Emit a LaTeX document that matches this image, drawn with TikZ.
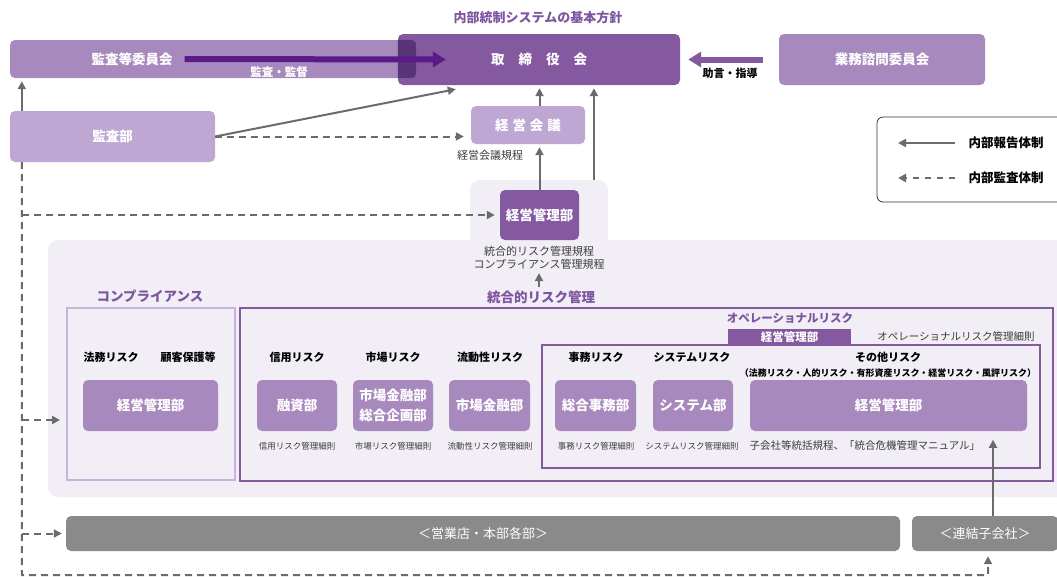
\documentclass[tikz,border=0pt]{standalone}
\usepackage{fontspec}
\setmainfont{Noto Sans CJK JP}
\usetikzlibrary{arrows.meta,calc,positioning}
\definecolor{darkp}{HTML}{84599F}
\definecolor{midp}{HTML}{A889BD}
\definecolor{lightp}{HTML}{BEA8D3}
\definecolor{compline}{HTML}{C6B2DA}
\definecolor{panel}{HTML}{F1EEF5}
\definecolor{auditp}{HTML}{5A1A8A}
\definecolor{overlapc}{HTML}{5A3479}
\definecolor{titlep}{HTML}{7E55A0}
\definecolor{linegray}{HTML}{6B6B6B}
\definecolor{boxgray}{HTML}{8A8A8A}
\definecolor{rulegray}{HTML}{3C3C3C}
\tikzset{
  box/.style={rounded corners=5pt, inner sep=0pt, text=white, font=\fontsize{13.5}{16}\selectfont\bfseries},
  ttl/.style={text=titlep, font=\fontsize{13.5}{16}\selectfont\bfseries},
  risk/.style={font=\fontsize{11}{13}\selectfont\bfseries},
  rule/.style={text=rulegray, font=\fontsize{8.5}{10}\selectfont},
  rep/.style={draw=linegray, line width=2pt, -{Triangle[length=8pt,width=8pt]}},
  aud/.style={rep, dash pattern=on 7pt off 5pt},
  advise/.style={line width=6pt, -{Triangle[length=13pt,width=15pt]}}
}

\begin{document}
\begin{tikzpicture}[x=1pt,y=-1pt]
  \useasboundingbox (0,0) rectangle (1057,576);
  \clip (0,0) rectangle (1057,576);

  \fill[panel, rounded corners=10pt] (48,240) rectangle (1080,497);
  \node[fill=panel, rounded corners=10pt, minimum width=138pt, minimum height=80pt] (bump) at (539,220) {};

  % board and committees
  \node[ttl, font=\fontsize{13}{15}\selectfont\bfseries] (policy) at (538,18) {内部統制システムの基本方針};
  \node[box, fill=midp, minimum width=406pt, minimum height=38pt] (kansaiin) at (213,59) {};
  \node[box, fill=darkp, minimum width=282pt, minimum height=51pt] (torishimari) at (539,59.5) {取\hspace{14pt}締\hspace{14pt}役\hspace{14pt}会};
  \begin{scope}
    \clip[rounded corners=5pt] (kansaiin.north west) rectangle (kansaiin.south east);
    \fill[overlapc, rounded corners=5pt] (torishimari.north west) rectangle (torishimari.south east);
  \end{scope}
  \node[box] (kansaiinlbl) at (132,59) {監査等委員会};
  \draw[advise, draw=auditp, fill=auditp] ([xshift=12pt]kansaiinlbl.east) -- ([xshift=48pt]torishimari.west);
  \node[text=white, font=\fontsize{11.5}{13}\selectfont\bfseries] (kansalbl) at (279,72) {監査・監督};
  \node[box, fill=midp, minimum width=206pt, minimum height=51pt] (gyomu) at (882,59.5) {業務諮問委員会};
  \draw[advise, draw=darkp, fill=darkp] ([xshift=-16pt]gyomu.west) -- ([xshift=8pt]torishimari.east);
  \node[risk] (advlbl) at (730,73) {助言・指導};

  \node[box, fill=lightp, minimum width=205pt, minimum height=51pt] (kansabu) at (112.5,136.5) {監査部};
  \node[box, fill=lightp, minimum width=114pt, minimum height=38pt] (keieikaigi) at (528,125) {経\hspace{4pt}営\hspace{4pt}会\hspace{4pt}議};
  \node[rule, font=\fontsize{11}{13}\selectfont] (kaigirule) at (490,155) {経営会議規程};
  \node[box, fill=darkp, minimum width=79pt, minimum height=50pt] (keieikanri) at (539.5,215) {経営管理部};
  \node[rule, font=\fontsize{11}{13}\selectfont, align=center] (toprule) at (539,258) {統合的リスク管理規程\\コンプライアンス管理規程};
  \node[ttl] (risktitle) at (541,297) {統合的リスク管理};

  \draw[rep] (toprule.south |- risktitle.north) -- (toprule.south);
  \draw[rep, shorten >=3pt] (keieikanri.north) -- (keieikanri.north |- keieikaigi.south);
  \draw[rep, shorten >=3pt] (keieikanri.north |- keieikaigi.north) -- (keieikanri.north |- torishimari.south);
  \draw[rep, shorten >=3pt] ([xshift=55pt]bump.north) -- ([xshift=55pt]bump.north |- torishimari.south);
  \draw[rep] (kansabu.east) -- ($(torishimari.south west)+(58,4)$);
  \draw[aud, shorten >=7pt] (kansabu.east) -- (kansabu.east -| keieikaigi.west);
  \draw[rep, shorten >=3pt] ([xshift=12pt]kansabu.north west) -- ([xshift=12pt]kansabu.north west |- kansaiin.south);

  % legend
  \node[draw=black!80, line width=0.8pt, rounded corners=6pt, minimum width=190pt, minimum height=85pt] (legend) at (972,159.5) {};
  \node[anchor=west, font=\fontsize{12.5}{14}\selectfont\bfseries] (legrep) at (965,143) {内部報告体制};
  \node[anchor=west, font=\fontsize{12.5}{14}\selectfont\bfseries] (legaud) at (965,178) {内部監査体制};
  \draw[rep] ([xshift=-10pt]legrep.west) -- ([xshift=-67pt]legrep.west);
  \draw[aud, dash pattern=on 6pt off 6pt] ([xshift=-10pt]legaud.west) -- ([xshift=-67pt]legaud.west);

  % compliance
  \node[ttl] (complttl) at (150,296) {コンプライアンス};
  \node[draw=compline, line width=2pt, minimum width=168pt, minimum height=172pt] (compbox) at (151,394) {};
  \node[risk] (homu) at (111,357) {法務リスク};
  \node[risk] (kokyaku) at (188,357) {顧客保護等};
  \node[box, fill=midp, minimum width=135pt, minimum height=51pt] (compkanri) at (150.5,405.5) {経営管理部};

  % integrated risk
  \node[draw=darkp, line width=2.5pt, minimum width=813pt, minimum height=173pt] (riskbox) at (646.5,394.5) {};
  \node[risk] (shinyo) at (297,357) {信用リスク};
  \node[box, fill=midp, minimum width=80pt, minimum height=51pt] (yushi) at (297,405.5) {融資部};
  \node[rule] (shinyorule) at (297,446) {信用リスク管理細則};
  \node[risk] (shijo) at (393,357) {市場リスク};
  \node[box, fill=midp, minimum width=80pt, minimum height=51pt, align=center, font=\fontsize{13.5}{19.5}\selectfont\bfseries] (shijobu) at (393,405.5) {市場金融部\\総合企画部};
  \node[rule] (shijorule) at (393,446) {市場リスク管理細則};
  \node[risk] (ryudo) at (490,357) {流動性リスク};
  \node[box, fill=midp, minimum width=81pt, minimum height=51pt] (ryudobu) at (489.5,405.5) {市場金融部};
  \node[rule] (ryudorule) at (490,446) {流動性リスク管理細則};

  % operational risk
  \node[draw=darkp, line width=2.5pt, minimum width=498pt, minimum height=123pt] (opbox) at (791,406.5) {};
  \node[ttl, font=\fontsize{11.5}{13}\selectfont\bfseries] (opttl) at (790,318) {オペレーショナルリスク};
  \node[fill=darkp, text=white, inner sep=0pt, font=\fontsize{11.5}{13}\selectfont\bfseries, minimum width=123pt, minimum height=17pt] (optab) at (789.5,337.5) {経営管理部};
  \node[rule, font=\fontsize{10.5}{12}\selectfont] (oprule) at (956,336) {オペレーショナルリスク管理細則};
  \node[risk] (jimu) at (596,357) {事務リスク};
  \node[box, fill=midp, minimum width=81pt, minimum height=51pt] (jimubu) at (595.5,405.5) {総合事務部};
  \node[rule] (jimurule) at (596,446) {事務リスク管理細則};
  \node[risk] (sys) at (692,357) {システムリスク};
  \node[box, fill=midp, minimum width=80pt, minimum height=51pt] (sysbu) at (693,405.5) {システム部};
  \node[rule] (sysrule) at (692,446) {システムリスク管理細則};
  \node[risk] (sonota) at (888,357) {その他リスク};
  \node[risk, font=\fontsize{9}{11}\selectfont\bfseries] (sonotasub) at (888,373) {（法務リスク・人的リスク・有形資産リスク・経営リスク・風評リスク）};
  \node[box, fill=midp, minimum width=277pt, minimum height=51pt] (sonotabu) at (888.5,405.5) {経営管理部};
  \node[rule, font=\fontsize{10.5}{12}\selectfont, anchor=west] (sonotarule) at (746,446) {子会社等統括規程、「統合危機管理マニュアル」};

  % branches and subsidiaries
  \node[box, fill=boxgray, font=\fontsize{13}{15}\selectfont, minimum width=834pt, minimum height=35pt] (eigyo) at (483,533.5) {＜営業店・本部各部＞};
  \node[box, fill=boxgray, font=\fontsize{13}{15}\selectfont, minimum width=146pt, minimum height=35pt] (renketsu) at (985,533.5) {＜連結子会社＞};
  \draw[rep] ([xshift=8pt]renketsu.north) -- ++(0,-76);

  % audit lines
  \coordinate (trunk) at (22,575);
  \coordinate (rk) at ($(renketsu.south)+(3,0)$);
  \draw[aud, shorten >=5pt] ([xshift=12pt]kansabu.south west) -- (trunk) -- (trunk -| rk) -- (rk);
  \draw[aud, shorten >=5pt] (trunk |- keieikanri.west) -- (keieikanri.west);
  \draw[aud, shorten >=6pt] ($(trunk |- compbox.west)+(0,26)$) -- ($(compbox.west)+(0,26)$);
  \draw[aud, shorten >=4pt] (trunk |- eigyo.west) -- (eigyo.west);
\end{tikzpicture}
\end{document}
